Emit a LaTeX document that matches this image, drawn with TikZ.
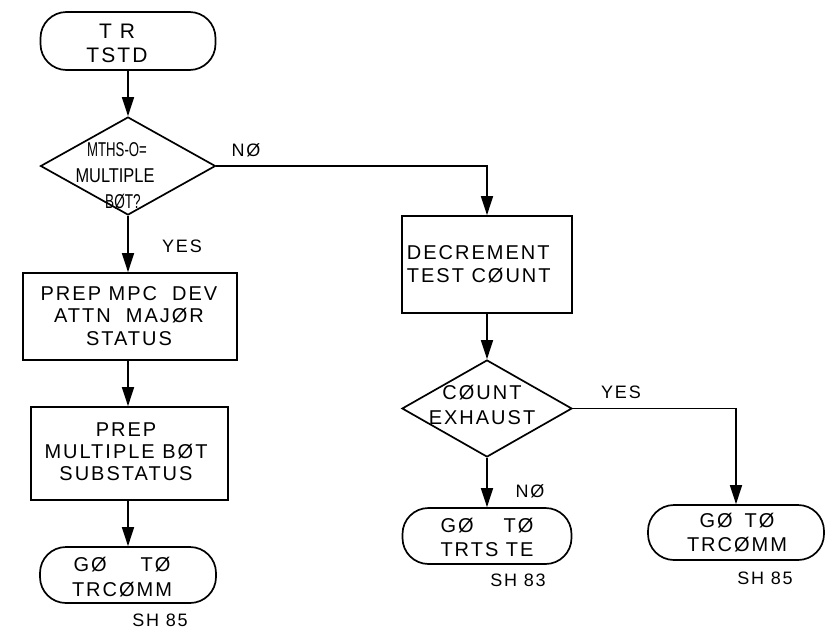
\documentclass[tikz,border=0pt]{standalone}
\usepackage{fontspec}
\setmainfont{Liberation Sans}[LetterSpace=10]
\newfontfamily\plainsans{Liberation Sans}
\usetikzlibrary{arrows.meta,shapes.geometric}
\begin{document}
\begin{tikzpicture}[x=1pt,y=-1pt,
  line width=1.7pt,
  txt/.style={font=\fontsize{20}{23}\selectfont, inner sep=0pt, align=center},
  lbl/.style={font=\fontsize{18}{20}\selectfont, inner sep=0pt},
  procbox/.style={draw, rectangle, inner sep=0pt},
  term/.style={draw, rectangle, rounded corners=26pt, inner sep=0pt},
  decision/.style={draw, diamond, inner sep=0pt},
  arr/.style={-{Triangle[length=19pt,width=12pt]}}]
\path[use as bounding box] (0,0) rectangle (833,635);

% left column
\node[term, minimum width=175pt, minimum height=58pt] (t1) at (128,41) {};
\node[txt, font=\fontsize{21}{24}\selectfont] (t1txt) at (117,43) {T R\\TSTD};

\node[decision, minimum width=175pt, minimum height=98pt] (d1) at (128,166) {};
\node[txt, font=\plainsans\fontsize{20}{26}\selectfont] (d1txt) at (115,176) {\hspace*{4pt}\scalebox{0.66}[1]{MTHS-O=}\\\scalebox{0.82}[1]{MULTIPLE}\\\hspace*{16pt}\scalebox{0.68}[1]{BØT?}};

\node[procbox, minimum width=214pt, minimum height=87pt] (b1) at (130,316.5) {};
\node[txt, font=\fontsize{20}{22.5}\selectfont] (b1txt) at (129,316) {PREP MPC\ \ DEV\\ATTN\ \ MAJØR\\STATUS};

\node[procbox, minimum width=197pt, minimum height=93pt] (b2) at (129.5,453.5) {};
\node[txt, font=\fontsize{20}{22}\selectfont] (b2txt) at (126,452) {PREP\\MULTIPLE BØT\\SUBSTATUS};

\node[term, minimum width=176pt, minimum height=56pt] (t2) at (128,575) {};
\node[txt, font=\fontsize{20}{25}\selectfont] (t2txt) at (122,577) {GØ\hspace{34pt}TØ\\TRCØMM};
\node[lbl] (sh1) at (160,620) {SH 85};

% right column
\node[procbox, minimum width=170pt, minimum height=97pt] (b3) at (487,264.5) {};
\node[txt, align=left, anchor=west, font=\fontsize{20}{23}\selectfont] (b3txt) at (406,264) {DECREMENT\\TEST CØUNT};

\node[decision, minimum width=170pt, minimum height=97pt] (d2) at (487,408.5) {};
\node[txt, font=\fontsize{20}{25}\selectfont] (d2txt) at (482,405) {CØUNT\\EXHAUST};

\node[term, minimum width=169pt, minimum height=56pt] (t3) at (487,536) {};
\node[txt, font=\fontsize{20}{24}\selectfont] (t3txt) at (487,537) {GØ\hspace{30pt}TØ\\TRTS TE};
\node[lbl] (sh2) at (518,580) {SH 83};

\node[term, minimum width=176pt, minimum height=55pt] (t4) at (736,532.5) {};
\node[txt, font=\fontsize{20}{24}\selectfont] (t4txt) at (737,533) {GØ\hspace{12pt}TØ\\TRCØMM};
\node[lbl] (sh3) at (765,578) {SH 85};

% labels
\node[lbl] (no1) at (246,150) {NØ};
\node[lbl] (yes1) at (182,246) {YES};
\node[lbl] (yes2) at (621,392) {YES};
\node[lbl] (no2) at (530,491) {NØ};

% connectors
\draw[arr] (t1.south) -- (t1.south |- d1.north);
\draw[arr] (d1.south) -- (d1.south |- b1.north);
\draw[arr] (b1.south -| d1.south) -- (d1.south |- b2.north);
\draw[arr] (b2.south -| d1.south) -- (d1.south |- t2.north);
\draw[arr] (d1.east) -| (b3.north);
\draw[arr] (b3.south) -- (d2.north);
\draw[arr] (d2.south) -- (t3.north);
\draw[arr] (d2.east) -| (t4.north);
\end{tikzpicture}
\end{document}
